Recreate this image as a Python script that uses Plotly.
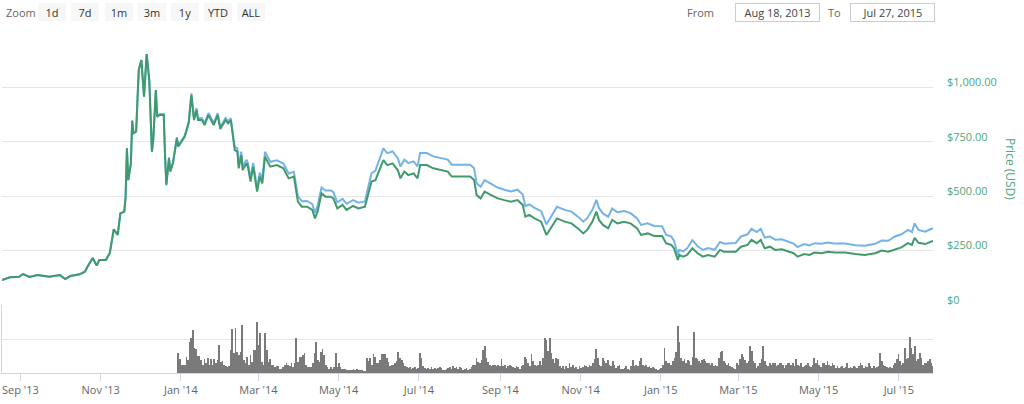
import pandas as pd
import plotly.graph_objects as go

# ---------------- data ----------------
start_date = "2013-08-18"
price_days = [0, 6, 13, 16, 21, 27, 36, 44, 48, 52, 59, 63, 65, 69, 72, 74, 79, 82, 85, 88, 90, 93, 94, 95, 96, 98, 99,
              100, 102, 104, 106, 108, 110, 112, 114, 115, 117, 118,
              120, 123, 124, 125, 127, 128, 130, 133, 134, 137, 139,
              142, 144, 146, 148, 149, 152, 154, 157, 161, 164, 166, 170, 172, 174,
              177, 179, 180, 182, 183, 186, 187, 189, 191, 194, 196, 198, 200, 204, 209, 214, 218, 222,
              225, 228, 232, 236, 238, 240, 243, 246, 250, 252, 255, 259, 262, 267, 271, 276,
              278, 281, 284, 287, 290, 293, 297, 301, 303, 306, 309, 313, 316, 318, 323, 328, 334, 339, 342,
              349, 356, 359, 361, 364, 367, 372, 377, 382, 387, 392, 396, 398, 401, 405, 410, 414, 417, 422,
              428, 433, 438, 442, 445, 449, 452, 454, 457, 461, 464, 468, 473, 478, 483, 486, 491, 496, 502,
              505, 509, 511, 514, 515, 518, 521, 525, 529, 533, 537, 542, 546, 549, 552, 558, 562, 567, 570,
              574, 577, 580, 584, 588, 593, 598, 602, 605, 610, 614, 618, 623, 628, 633, 641, 649, 656, 664,
              669, 674, 679, 684, 689, 692, 694, 697, 702, 706, 708]

price_green = [115, 127, 130, 142, 129, 138, 130, 138, 119, 133, 141, 153, 176, 216, 181, 207, 207, 239, 348, 322, 421, 429, 498, 720, 574, 651, 847,
               789, 797, 1080, 1126, 957, 1153, 1034, 705, 758, 988, 865,
               873, 873, 682, 551, 674, 613, 651, 766, 728, 758, 774,
               835, 965, 850, 896, 850, 850, 827, 873, 827, 873, 809, 850, 835, 850,
               712, 705, 628, 689, 620, 651, 636, 567, 636, 521, 590, 559, 682, 636, 643, 628, 582, 590,
               475, 452, 452, 437, 398, 429, 513, 498, 498, 490, 444, 460, 437, 455, 444, 452,
               498, 567, 574, 620, 666, 643, 651, 620, 582, 613, 597, 605, 582, 643, 643, 628, 620, 613, 590,
               590, 590, 574, 505, 490, 521, 505, 490, 482, 475, 482, 460, 406, 414, 398, 383, 322, 352, 398,
               383, 375, 352, 329, 345, 383, 429, 391, 368, 352, 391, 375, 383, 375, 352, 322, 329, 317, 317,
               284, 276, 261, 207, 230, 222, 230, 261, 238, 222, 230, 222, 253, 245, 245, 245, 268, 276, 299,
               284, 299, 261, 268, 253, 256, 245, 238, 222, 234, 230, 241, 238, 245, 241, 241, 234, 230, 238,
               250, 245, 256, 265, 284, 276, 309, 286, 280, 291, 295]

price_blue = [115, 127, 130, 142, 129, 138, 130, 138, 119, 133, 141, 153, 176, 216, 181, 207, 207, 239, 348, 322, 421, 429, 498, 720, 574, 651, 847,
              789, 797, 1080, 1126, 957, 1153, 1034, 705, 758, 988, 865,
              878, 878, 687, 556, 679, 618, 656, 771, 733, 763, 779,
              843, 973, 858, 905, 859, 859, 836, 882, 836, 882, 818, 859, 844, 859,
              727, 720, 644, 705, 636, 667, 652, 583, 653, 538, 608, 578, 704, 658, 665, 650, 604, 612,
              500, 477, 478, 463, 424, 456, 540, 526, 526, 518, 472, 488, 465, 482, 470, 476,
              530, 605, 618, 670, 720, 698, 706, 675, 637, 668, 652, 660, 637, 698, 698, 683, 675, 668, 645,
              645, 645, 628, 558, 543, 574, 557, 540, 530, 522, 530, 508, 454, 462, 446, 431, 370, 400, 451,
              437, 429, 406, 383, 399, 437, 483, 445, 421, 405, 443, 426, 432, 422, 398, 368, 375, 363, 362,
              323, 314, 296, 231, 254, 247, 260, 298, 270, 253, 262, 254, 290, 282, 284, 285, 315, 325, 350,
              335, 350, 310, 315, 300, 302, 290, 282, 266, 280, 274, 284, 281, 287, 283, 283, 275, 272, 281,
              296, 295, 315, 325, 345, 335, 375, 345, 337, 348, 352]

# volume readings (relative units), three stretches of the bottom panel
vol_seg1_span = ("2013-12-30", "2014-05-10")
vol_seg1 = [58, 40, 23, 23, 23, 46, 38, 90, 103, 126, 73, 70, 50, 50, 38, 23, 40, 28, 43, 23, 40, 23, 40, 28, 38, 83,
            33, 36, 23, 20, 18, 20, 68, 128, 58, 133, 63, 53, 63, 140, 38, 28, 48, 23, 53, 33, 68, 68, 150, 83, 118,
            33, 23, 118, 68, 33, 40, 23, 23, 18, 20, 20, 13, 13, 18, 23, 30, 23, 20, 28, 18, 30, 103, 33, 48, 48, 53,
            58, 23, 18, 18, 18, 28, 58, 90, 38, 33, 63, 70, 53, 23, 18, 13, 18, 13, 18, 58, 18, 28, 18, 13, 13, 13,
            10, 10, 8]
vol_seg2_span = ("2014-05-11", "2015-01-24")
vol_seg2 = [8, 12, 10, 13, 8, 10, 8, 5, 3, 43, 35, 45, 25, 55, 48, 30, 28, 38, 55, 55, 55, 45, 33, 20, 23, 25, 28, 35,
            63, 45, 38, 30, 20, 18, 15, 18, 13, 15, 18, 13, 15, 58, 45, 20, 15, 13, 15, 13, 18, 13, 15, 13, 15, 18,
            15, 10, 8, 13, 15, 18, 13, 20, 15, 18, 13, 18, 15, 10, 13, 15, 10, 13, 18, 25, 23, 45, 33, 30, 38, 68,
            80, 45, 33, 25, 20, 23, 25, 20, 25, 20, 40, 20, 25, 15, 20, 25, 20, 18, 15, 20, 18, 13, 20, 25, 48, 40,
            30, 20, 55, 35, 25, 20, 25, 35, 25, 45, 103, 98, 65, 103, 60, 40, 30, 45, 40, 20, 15, 20, 13, 20, 15,
            30, 18, 25, 15, 18, 13, 20, 15, 18, 25, 20, 18, 25, 20, 30, 40, 70, 45, 25, 20, 45, 35, 30, 38, 25, 20,
            35, 25, 15, 20, 25, 13, 13, 15, 20, 13, 10, 20, 38, 20, 25, 20, 35, 45, 25, 20, 25, 18, 20, 15, 18, 15,
            13, 10, 13, 15, 25, 75, 35, 30, 30, 25, 35, 45, 63, 138, 90, 45, 35, 40, 30, 38, 35, 25]
vol_seg3_span = ("2015-01-25", "2015-07-27")
vol_seg3 = [48, 120, 45, 40, 35, 30, 38, 40, 35, 30, 28, 25, 30, 22, 25, 20, 45, 63, 65, 35, 28, 25, 30, 20, 18, 15,
            13, 30, 25, 40, 55, 48, 38, 28, 35, 80, 65, 35, 30, 15, 20, 30, 40, 80, 35, 25, 20, 30, 25, 28, 30, 20,
            25, 28, 30, 25, 15, 25, 28, 30, 25, 30, 20, 40, 25, 20, 28, 18, 20, 25, 28, 20, 18, 25, 45, 28, 38, 25,
            18, 28, 30, 25, 35, 25, 20, 30, 25, 15, 20, 15, 18, 20, 15, 18, 30, 15, 18, 15, 20, 18, 15, 20, 30, 25,
            15, 20, 18, 30, 20, 15, 20, 15, 18, 20, 58, 35, 25, 20, 18, 15, 18, 15, 25, 30, 40, 55, 35, 25, 28, 75,
            40, 45, 105, 73, 55, 78, 35, 40, 60, 45, 25, 30, 30, 35, 40, 30, 20]

price_tick_vals = [0, 250, 500, 750, 1000, 1250]
price_tick_text = ["$0", "$250.00", "$500.00", "$750.00", "$1,000.00", ""]
zoom_buttons = ["1d", "7d", "1m", "3m", "1y", "YTD", "ALL"]
from_text = "Aug 18, 2013"
to_text = "Jul 27, 2015"

# ---------------- build ----------------
price_dates = pd.Timestamp(start_date) + pd.to_timedelta(price_days, unit="D")

vol_dates = []
vol_vals = []
for span, seg in [(vol_seg1_span, vol_seg1), (vol_seg2_span, vol_seg2), (vol_seg3_span, vol_seg3)]:
    vol_dates.extend(pd.date_range(span[0], span[1], periods=len(seg)))
    vol_vals.extend(seg)

GREEN = "#3f9a6c"
BLUE = "#74b3e8"
LABEL_GREEN = "#4ea67a"
FONT = "Open Sans"

fig = go.Figure()
fig.add_trace(go.Scatter(x=price_dates, y=price_blue, mode="lines",
                         line=dict(color=BLUE, width=2), yaxis="y", showlegend=False))
fig.add_trace(go.Scatter(x=price_dates, y=price_green, mode="lines",
                         line=dict(color=GREEN, width=2), yaxis="y", showlegend=False))
fig.add_trace(go.Bar(x=vol_dates, y=vol_vals, yaxis="y2", showlegend=False,
                     marker=dict(color="#7a7a7a", line=dict(width=0)),
                     width=0.55 * 86400000))

W, H = 1024, 404
ML, MR, MT, MB = 2, 91, 33, 31
PW, PH = W - ML - MR, H - MT - MB


def px(x):
    return (x - ML) / PW


def py(y):
    return (H - MB - y) / PH


annotations = []
annotations.append(dict(text="Zoom", x=px(4), y=py(12.5), xref="paper", yref="paper",
                        xanchor="left", yanchor="middle", showarrow=False,
                        font=dict(family=FONT, size=11, color="#666666")))
btn_left = [38, 71, 105, 138, 171, 204, 237]
for lbl, bx in zip(zoom_buttons, btn_left):
    annotations.append(dict(text=lbl, x=px(bx), y=py(3), xref="paper", yref="paper",
                            xanchor="left", yanchor="top", showarrow=False,
                            width=28, height=18, bgcolor="#f7f7f7", borderwidth=0, borderpad=0,
                            font=dict(family=FONT, size=11, color="#333333")))
annotations.append(dict(text="From", x=px(716), y=py(12.5), xref="paper", yref="paper",
                        xanchor="right", yanchor="middle", showarrow=False,
                        font=dict(family=FONT, size=11, color="#666666")))
annotations.append(dict(text=from_text, x=px(735), y=py(3), xref="paper", yref="paper",
                        xanchor="left", yanchor="top", showarrow=False,
                        width=83, height=17, bgcolor="white", bordercolor="#cccccc", borderwidth=1, borderpad=0,
                        font=dict(family=FONT, size=11, color="#444444")))
annotations.append(dict(text="To", x=px(843), y=py(12.5), xref="paper", yref="paper",
                        xanchor="right", yanchor="middle", showarrow=False,
                        font=dict(family=FONT, size=11, color="#666666")))
annotations.append(dict(text=to_text, x=px(850), y=py(3), xref="paper", yref="paper",
                        xanchor="left", yanchor="top", showarrow=False,
                        width=83, height=17, bgcolor="white", bordercolor="#cccccc", borderwidth=1, borderpad=0,
                        font=dict(family=FONT, size=11, color="#444444")))
annotations.append(dict(text="Price (USD)", x=px(1011), y=py(169), xref="paper", yref="paper",
                        xanchor="center", yanchor="middle", showarrow=False, textangle=90,
                        font=dict(family=FONT, size=12, color=LABEL_GREEN)))

fig.update_layout(
    width=W, height=H,
    margin=dict(l=ML, r=MR, t=MT, b=MB, pad=0),
    paper_bgcolor="white", plot_bgcolor="white",
    font=dict(family=FONT, size=11, color="#666666"),
    bargap=0,
    showlegend=False,
    hovermode=False,
    annotations=annotations,
    xaxis=dict(
        type="date", range=["2013-08-18", "2015-07-27"],
        anchor="y2", showgrid=False, zeroline=False,
        showline=True, linecolor="#ccd6eb", linewidth=1,
        ticks="outside", ticklen=7, tickcolor="#ccd6eb", tickwidth=1,
        tick0="2013-09-01", dtick="M2", tickformat="%b '%y",
        tickfont=dict(family=FONT, size=11, color="#666666"),
    ),
    yaxis=dict(
        domain=[0.2, 1.0], range=[0, 1250], side="right", anchor="x",
        tickvals=price_tick_vals, ticktext=price_tick_text,
        showgrid=True, gridcolor="#e6e6e6", gridwidth=1, zeroline=False,
        showline=False, ticks="",
        ticklabelstandoff=13, ticklabelshift=-5,
        tickfont=dict(family=FONT, size=11, color=LABEL_GREEN),
    ),
    yaxis2=dict(
        domain=[0.0, 0.2], range=[0, 200], anchor="x", side="left",
        tickvals=[0, 100, 200], showticklabels=False,
        showgrid=True, gridcolor="#e6e6e6", gridwidth=1, zeroline=False,
        showline=True, linecolor="#ccd6eb", linewidth=1, ticks="",
    ),
)

fig.write_html("out.html", config={"displayModeBar": False},
               post_script="document.body.style.margin='0';document.body.style.padding='0';")
